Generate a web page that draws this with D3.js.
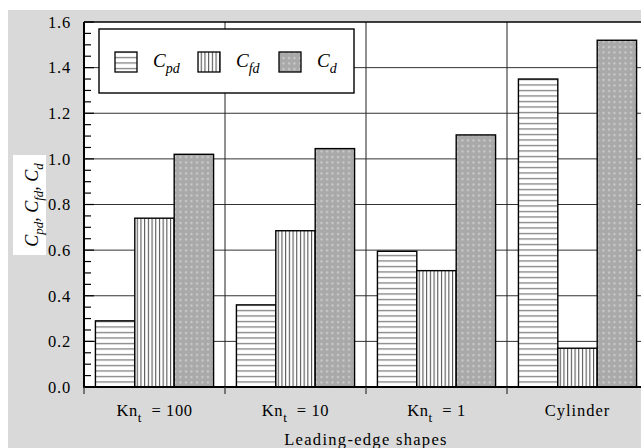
<!DOCTYPE html>
<html>
<head>
<meta charset="utf-8">
<script src="https://cdn.jsdelivr.net/npm/d3@7"></script>
<style>
  body { margin: 0; background: #fff; }
  svg { display: block; }
</style>
</head>
<body>
<div id="chart"></div>
<script>
const groups = ['Kn100', 'Kn10', 'Kn1', 'Cylinder'];
const groupLabels = [['Kn', 't', '= 100'], ['Kn', 't', '= 10'], ['Kn', 't', '= 1'], ['Cylinder', '', '']];
const series = ['Cpd', 'Cfd', 'Cd'];
const seriesSubs = ['pd', 'fd', 'd'];
const cpd = [0.29, 0.36, 0.595, 1.35];
const cfd = [0.74, 0.685, 0.51, 0.17];
const cd = [1.02, 1.045, 1.105, 1.52];
const yTicks = [0, 0.2, 0.4, 0.6, 0.8, 1.0, 1.2, 1.4, 1.6];

const FONT = "'Liberation Serif', 'Times New Roman', 'DejaVu Serif', serif";
const width = 641, height = 448;
const pLeft = 84, pRight = 648, pTop = 22, pBottom = 387;

const svg = d3.select('#chart').append('svg')
    .attr('width', width)
    .attr('height', height)
    .attr('font-family', FONT);

// patterns
const defs = svg.append('defs');
const ph = defs.append('pattern').attr('id', 'p-h')
    .attr('patternUnits', 'userSpaceOnUse').attr('width', 8).attr('height', 5.5);
ph.append('rect').attr('width', 8).attr('height', 5.5).attr('fill', '#fff');
ph.append('line').attr('x1', 0).attr('x2', 8).attr('y1', 2.5).attr('y2', 2.5)
    .attr('stroke', '#777').attr('stroke-width', 1.2);
const pv = defs.append('pattern').attr('id', 'p-v')
    .attr('patternUnits', 'userSpaceOnUse').attr('width', 3.7).attr('height', 8);
pv.append('rect').attr('width', 3.7).attr('height', 8).attr('fill', '#fff');
pv.append('line').attr('y1', 0).attr('y2', 8).attr('x1', 1.5).attr('x2', 1.5)
    .attr('stroke', '#444').attr('stroke-width', 1);
const pd = defs.append('pattern').attr('id', 'p-d')
    .attr('patternUnits', 'userSpaceOnUse').attr('width', 5.5).attr('height', 5.5);
pd.append('rect').attr('width', 5.5).attr('height', 5.5).attr('fill', '#a9a9a9');
pd.append('rect').attr('x', 2).attr('y', 2).attr('width', 2).attr('height', 2).attr('fill', '#cfcfcf');
const fills = { Cpd: 'url(#p-h)', Cfd: 'url(#p-v)', Cd: 'url(#p-d)' };

// background
svg.append('rect').attr('x', 8).attr('y', 10).attr('width', width - 8).attr('height', height - 10)
    .attr('fill', '#d9d9d9');
svg.append('rect').attr('x', pLeft).attr('y', pTop).attr('width', pRight - pLeft).attr('height', pBottom - pTop)
    .attr('fill', '#fff');

const x = d3.scaleBand().domain(groups).range([pLeft, pRight]).padding(0);
const xSub = d3.scaleBand().domain(series).range([0, x.bandwidth()])
    .paddingInner(0).paddingOuter(0.29);
const y = d3.scaleLinear().domain([0, 1.6]).range([pBottom, pTop]);

// grid
const grid = svg.append('g');
grid.selectAll('line.h').data(yTicks.slice(1, -1)).join('line')
    .attr('x1', pLeft).attr('x2', pRight)
    .attr('y1', d => y(d)).attr('y2', d => y(d))
    .attr('stroke', '#333').attr('stroke-width', 1);
grid.selectAll('line.v').data(groups.slice(1)).join('line')
    .attr('x1', d => x(d)).attr('x2', d => x(d))
    .attr('y1', pTop).attr('y2', pBottom)
    .attr('stroke', '#222').attr('stroke-width', 1);

// bars
const rows = groups.map((g, i) => ({ g, vals: [cpd[i], cfd[i], cd[i]] }));
const gGroup = svg.append('g').selectAll('g').data(rows).join('g')
    .attr('transform', d => `translate(${x(d.g)},0)`);
gGroup.selectAll('rect').data(d => d.vals.map((v, j) => ({ s: series[j], v }))).join('rect')
    .attr('x', d => xSub(d.s))
    .attr('y', d => y(d.v))
    .attr('width', xSub.bandwidth())
    .attr('height', d => y(0) - y(d.v))
    .attr('fill', d => fills[d.s])
    .attr('stroke', '#000').attr('stroke-width', 1.4);

// y axis: inward ticks
const minor = d3.range(0, 1.6001, 0.05);
svg.append('g').selectAll('line').data(minor).join('line')
    .attr('x1', pLeft).attr('x2', (d, i) => pLeft + (i % 4 === 0 ? 10 : 7))
    .attr('y1', d => y(d)).attr('y2', d => y(d))
    .attr('stroke', '#000').attr('stroke-width', 1.2);

const yAxis = svg.append('g').attr('transform', `translate(${pLeft},0)`)
    .call(d3.axisLeft(y).tickValues(yTicks).tickFormat(d3.format('.1f')).tickSize(0).tickPadding(13));
yAxis.attr('font-family', FONT).attr('font-size', 16.5);
yAxis.select('.domain').remove();
yAxis.selectAll('text').attr('fill', '#000').style('letter-spacing', '0.8px');

// frame
svg.append('line').attr('x1', pLeft).attr('x2', pRight).attr('y1', pTop).attr('y2', pTop)
    .attr('stroke', '#000').attr('stroke-width', 1.5);
svg.append('line').attr('x1', pLeft).attr('x2', pLeft).attr('y1', pTop).attr('y2', pBottom + 1)
    .attr('stroke', '#000').attr('stroke-width', 2);
svg.append('line').attr('x1', pLeft - 1).attr('x2', pRight).attr('y1', pBottom).attr('y2', pBottom)
    .attr('stroke', '#000').attr('stroke-width', 2.2);

// x ticks outward at group boundaries
svg.append('g').selectAll('line').data(groups).join('line')
    .attr('x1', d => x(d)).attr('x2', d => x(d))
    .attr('y1', pBottom).attr('y2', pBottom + 7)
    .attr('stroke', '#333').attr('stroke-width', 1.2);

// x labels
const xl = svg.append('g').selectAll('text').data(groups).join('text')
    .attr('x', d => x(d) + x.bandwidth() / 2)
    .attr('y', 416)
    .attr('text-anchor', 'middle')
    .attr('font-size', 16.5)
    .style('letter-spacing', '0.6px');
xl.each(function(d, i) {
  const t = d3.select(this);
  const lab = groupLabels[i];
  if (!lab[1]) { t.text(lab[0]); t.style('letter-spacing', '1px'); return; }
  t.append('tspan').text(lab[0]);
  t.append('tspan').text(lab[1]).attr('dy', 6).attr('font-size', 13);
  t.append('tspan').text('\u00a0\u00a0' + lab[2]).attr('dy', -6);
});

svg.append('text').attr('x', (pLeft + pRight) / 2).attr('y', 445).attr('text-anchor', 'middle')
    .attr('font-size', 16.5).style('letter-spacing', '1.3px')
    .text('Leading-edge shapes');

// y title
svg.append('rect').attr('x', 13).attr('y', 155).attr('width', 33).attr('height', 100).attr('fill', '#fff');
const yt = svg.append('text').attr('transform', 'translate(38,205) rotate(-90)')
    .attr('text-anchor', 'middle').attr('font-style', 'italic').attr('font-size', 18);
seriesSubs.forEach((s, i) => {
  yt.append('tspan').text((i ? ', ' : '') + 'C').attr('dy', i ? -5 : 0);
  yt.append('tspan').text(s).attr('dy', 5).attr('font-size', 13);
});

// legend
const lg = svg.append('g');
lg.append('rect').attr('x', 99).attr('y', 29).attr('width', 255).attr('height', 64)
    .attr('fill', '#fff').attr('stroke', '#000').attr('stroke-width', 1.4);
const legendX = [115, 198, 279];
series.forEach((s, i) => {
  lg.append('rect').attr('x', legendX[i]).attr('y', 52).attr('width', 22).attr('height', 20)
      .attr('fill', fills[s]).attr('stroke', '#000').attr('stroke-width', 1.3);
  const t = lg.append('text').attr('x', legendX[i] + 38).attr('y', 67)
      .attr('font-style', 'italic').attr('font-size', 19);
  t.append('tspan').text('C');
  t.append('tspan').text(seriesSubs[i]).attr('dy', 6).attr('font-size', 14);
});
</script>
</body>
</html>
